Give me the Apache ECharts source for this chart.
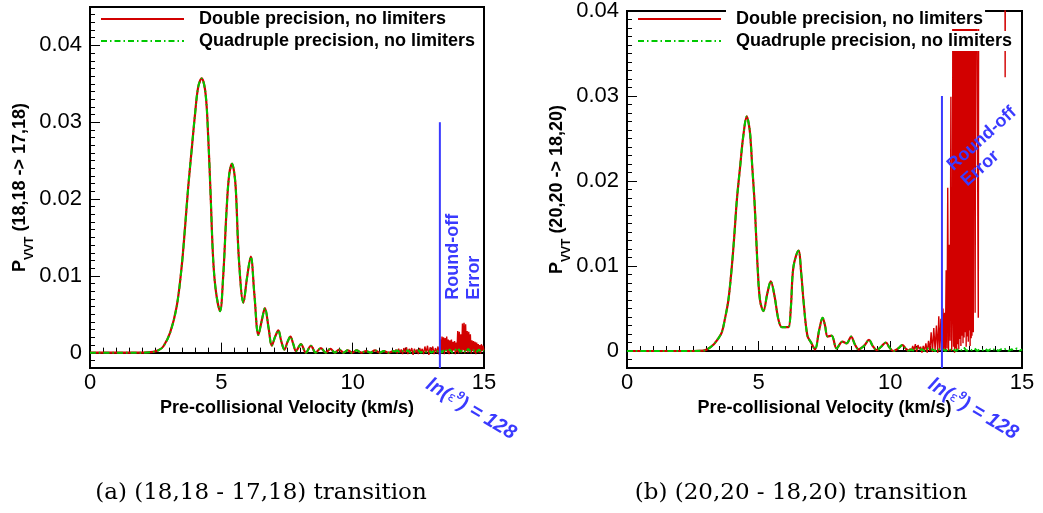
<!DOCTYPE html>
<html>
<head>
<meta charset="utf-8">
<script src="https://cdn.jsdelivr.net/npm/echarts@6/dist/echarts.min.js"></script>
<style>
  html, body { margin: 0; padding: 0; background: #fff; }
  #main { width: 1043px; height: 513px; }
</style>
</head>
<body>
<div id="main"></div>
<script>
// ---------- data: [velocity (km/s), P_VVT] ----------

// (18,18 -> 17,18): smooth part shared by both precisions
const leftCommon = [
  [0, 0], [2.0, 0], [2.41, 0.0001], [2.6, 0.0003], [2.79, 0.0008], [3.05, 0.0026],
  [3.3, 0.006], [3.49, 0.0112], [3.62, 0.0164], [3.74, 0.0216], [3.87, 0.0264],
  [4.0, 0.0311], [4.12, 0.0346], [4.25, 0.0357], [4.4, 0.0337], [4.5, 0.0281],
  [4.59, 0.0207], [4.69, 0.0121], [4.8, 0.0078], [4.95, 0.0054], [5.07, 0.0099],
  [5.2, 0.0186], [5.3, 0.0232], [5.41, 0.0246], [5.5, 0.0232], [5.56, 0.0207],
  [5.67, 0.0121], [5.84, 0.0065], [5.98, 0.0098], [6.12, 0.0125], [6.26, 0.0075],
  [6.41, 0.0023], [6.54, 0.0042], [6.66, 0.0058], [6.8, 0.0032], [6.92, 0.0009],
  [7.05, 0.0021], [7.17, 0.0029], [7.28, 0.0015], [7.4, 0.0004], [7.52, 0.0014],
  [7.63, 0.0021], [7.74, 0.0011], [7.84, 0.0002], [8.03, 0.0011], [8.22, 0.0],
  [8.41, 0.0009], [8.59, 0.0], [8.79, 0.0006], [8.97, 0.0], [9.15, 0.0005],
  [9.32, 0.0], [9.49, 0.0004], [9.65, 0.0], [9.81, 0.0003], [9.98, 0.0],
  [10.15, 0.0003], [10.33, 0.0], [10.51, 0.0002], [10.68, 0.0], [10.85, 0.0003],
  [11.02, 0.0], [11.19, 0.0002], [11.37, 0.0], [11.55, 0.0002], [11.6, 0.0001]
];

// (18,18 -> 17,18): double precision, noisy tail
const leftDoubleTail = [
  [11.6, 0.0001], [11.65, 0.0004], [11.7, -0.0001], [11.75, 0.0005], [11.8, 0.0],
  [11.85, 0.0004], [11.9, -0.0002], [11.95, 0.0006], [12.0, 0.0], [12.05, 0.0007],
  [12.1, -0.0002], [12.15, 0.0005], [12.2, 0.0001], [12.25, 0.0006], [12.3, -0.0003],
  [12.35, 0.0005], [12.4, 0.0], [12.45, 0.0004], [12.5, -0.0002], [12.55, 0.0006],
  [12.6, 0.0001], [12.65, 0.0005], [12.7, -0.0002], [12.75, 0.0008], [12.8, 0.0],
  [12.85, 0.0009], [12.9, -0.0003], [12.95, 0.0007], [13.0, 0.0001], [13.05, 0.0008],
  [13.1, -0.0002], [13.15, 0.0006], [13.2, 0.0], [13.25, 0.0008], [13.3, -0.0003],
  [13.34, 0.0017], [13.37, -0.0001], [13.4, 0.0021], [13.43, 0.0002], [13.46, 0.002],
  [13.49, -0.0002], [13.52, 0.0019], [13.55, 0.0003], [13.58, 0.0021], [13.61, 0.0],
  [13.64, 0.0017], [13.67, -0.0002], [13.7, 0.0016], [13.73, 0.0002], [13.76, 0.0017],
  [13.79, -0.0001], [13.82, 0.0014], [13.85, 0.0003], [13.88, 0.0015], [13.91, -0.0002],
  [13.94, 0.0013], [13.97, 0.0001], [14.0, 0.0028], [14.03, -0.0001], [14.06, 0.0027],
  [14.09, 0.0002], [14.12, 0.0024], [14.15, 0.0], [14.18, 0.0038], [14.21, 0.0003],
  [14.24, 0.0039], [14.27, -0.0001], [14.3, 0.0037], [14.33, 0.0002], [14.36, 0.0028],
  [14.39, 0.0], [14.42, 0.0027], [14.45, 0.0003], [14.48, 0.0024], [14.51, -0.0001],
  [14.54, 0.0016], [14.57, 0.0002], [14.6, 0.0015], [14.63, 0.0], [14.66, 0.0014],
  [14.69, -0.0002], [14.72, 0.0013], [14.75, 0.0001], [14.78, 0.0011], [14.81, 0.0],
  [14.84, 0.001], [14.87, -0.0001], [14.9, 0.0011], [14.93, 0.0002], [14.96, 0.0009],
  [15.0, 0.0003]
];

// (18,18 -> 17,18): quadruple precision tail
const leftQuadTail = [
  [11.6, 0.0001], [11.7, 0.0003], [11.8, 0.0], [11.9, 0.0002], [12.0, 0.0001],
  [12.1, 0.0003], [12.2, 0.0], [12.3, 0.0002], [12.4, 0.0001], [12.5, 0.0003],
  [12.6, 0.0], [12.7, 0.0002], [12.8, 0.0001], [12.9, 0.0003], [13.0, 0.0],
  [13.1, 0.0002], [13.2, 0.0001], [13.3, 0.0004], [13.4, 0.0], [13.5, 0.0005],
  [13.6, 0.0001], [13.7, 0.0004], [13.8, 0.0], [13.9, 0.0003], [14.0, 0.0006],
  [14.1, 0.0001], [14.2, 0.0004], [14.3, 0.0], [14.4, 0.0005], [14.5, 0.0001],
  [14.6, 0.0003], [14.7, 0.0], [14.8, 0.0004], [14.9, 0.0001], [15.0, 0.0003]
];

// (20,20 -> 18,20): smooth part shared by both precisions
const rightCommon = [
  [0, 0], [2.5, 0], [2.9, 0.00005], [3.05, 0.0002], [3.3, 0.0008], [3.45, 0.0014],
  [3.6, 0.0022], [3.72, 0.0038], [3.85, 0.006], [3.98, 0.0099], [4.08, 0.0138],
  [4.17, 0.0177], [4.29, 0.0215], [4.42, 0.0254], [4.55, 0.0276], [4.62, 0.0268],
  [4.68, 0.0254], [4.76, 0.0215], [4.84, 0.0177], [4.9, 0.0138], [4.96, 0.0099],
  [5.05, 0.006], [5.18, 0.0047], [5.33, 0.0068], [5.46, 0.0082], [5.6, 0.0065],
  [5.75, 0.0037], [5.88, 0.0028], [6.0, 0.0028], [6.13, 0.0028], [6.22, 0.005],
  [6.32, 0.0099], [6.51, 0.0118], [6.62, 0.009], [6.7, 0.006], [6.85, 0.0018],
  [6.99, 0.001], [7.14, 0.0002], [7.3, 0.0025], [7.43, 0.0039], [7.52, 0.003],
  [7.62, 0.0017], [7.77, 0.0018], [7.96, 0.0003], [8.18, 0.0011], [8.34, 0.0009],
  [8.51, 0.0017], [8.65, 0.0008], [8.79, 0.0002], [9.0, 0.0006], [9.19, 0.0013],
  [9.33, 0.0006], [9.48, 0.0001], [9.65, 0.0005], [9.83, 0.001], [9.97, 0.0004],
  [10.11, 0.0], [10.3, 0.0003], [10.46, 0.0007], [10.58, 0.0003], [10.7, 0.0]
];

// (20,20 -> 18,20): double precision, round-off blow-up
const rightDoubleTail = [
  [10.7, 0.0], [10.75, 0.0003], [10.8, 0.0], [10.85, 0.0006], [10.9, 0.0001],
  [10.95, 0.0008], [11.0, -0.0001], [11.05, 0.0007], [11.1, 0.0002], [11.15, 0.0005],
  [11.2, -0.0002], [11.25, 0.0006], [11.3, 0.0], [11.35, 0.0009], [11.4, -0.0002],
  [11.45, 0.0012], [11.5, 0.0], [11.55, 0.0022], [11.6, -0.0001], [11.65, 0.0027],
  [11.7, 0.0001], [11.75, 0.003], [11.8, -0.0002], [11.84, 0.0041], [11.88, 0.0],
  [11.92, 0.0038], [11.96, -0.0001], [12.0, 0.005], [12.03, 0.0002], [12.06, 0.0045],
  [12.09, -0.0001], [12.12, 0.0095], [12.15, 0.0003], [12.18, 0.0192], [12.21, 0.0],
  [12.24, 0.0125], [12.27, 0.0012], [12.3, 0.0299], [12.33, 0.0], [12.36, 0.0065],
  [12.38, 0.06], [12.4, 0.0005], [12.42, 0.06], [12.44, -0.0002], [12.46, 0.06],
  [12.48, 0.0003], [12.5, 0.06], [12.52, 0.0], [12.54, 0.06], [12.56, 0.0008],
  [12.58, 0.06], [12.6, 0.0002], [12.62, 0.06], [12.64, 0.0014], [12.66, 0.06],
  [12.68, 0.0006], [12.7, 0.06], [12.72, 0.0018], [12.74, 0.06], [12.76, 0.0009],
  [12.78, 0.06], [12.8, 0.0016], [12.82, 0.06], [12.84, 0.0022], [12.86, 0.06],
  [12.88, 0.0005], [12.9, 0.06], [12.92, 0.0017], [12.94, 0.06], [12.96, 0.0011],
  [12.98, 0.06], [13.0, 0.0024], [13.02, 0.06], [13.03, 0.0006], [13.05, 0.06],
  [13.07, 0.0015], [13.09, 0.06], [13.1, 0.0018], [13.12, 0.06], [13.15, 0.0022],
  [13.18, 0.06], [13.22, 0.0045], [13.26, 0.06], [13.34, 0.0039], [13.36, 0.06],
  [13.6, 0.08], [14.0, 0.09], [14.34, 0.07], [14.36, 0.0322], [14.38, 0.07], [14.6, 0.08]
];

// (20,20 -> 18,20): quadruple precision tail
const rightQuadTail = [
  [10.7, 0.0], [10.8, 0.0002], [10.9, 0.0], [11.0, 0.0003], [11.1, 0.0001],
  [11.2, 0.0002], [11.3, 0.0], [11.4, 0.0003], [11.5, 0.0001], [11.6, 0.0002],
  [11.7, 0.0], [11.8, 0.0003], [11.9, 0.0001], [12.0, 0.0002], [12.1, 0.0],
  [12.2, 0.0003], [12.3, 0.0001], [12.4, 0.0002], [12.5, 0.0], [12.6, 0.0003],
  [12.7, 0.0001], [12.8, 0.0004], [12.9, 0.0], [13.0, 0.0002], [13.1, 0.0001],
  [13.2, 0.0003], [13.3, 0.0], [13.4, 0.0002], [13.5, 0.0001], [13.6, 0.0003],
  [13.7, 0.0], [13.8, 0.0002], [13.9, 0.0001], [14.0, 0.0003], [14.1, 0.0],
  [14.2, 0.0002], [14.3, 0.0001], [14.4, 0.0003], [14.5, 0.0], [14.6, 0.0002],
  [14.7, 0.0001], [14.8, 0.0003], [14.9, 0.0], [15.0, 0.0002]
];

// round-off limit marker: velocity where ln(e^9) = 128, drawn from yMin up to this height
const limitV = [13.32, 11.96];
const limitTop = 0.03;

const xTicks = [0, 5, 10, 15];
const yTicks = [0, 0.01, 0.02, 0.03, 0.04];
const yMin = -0.002;
const yMax = [0.045, 0.04];

const seriesNames = ['Double precision, no limiters', 'Quadruple precision, no limiters'];
const yNames = ['(18,18 -> 17,18)', '(20,20 -> 18,20)'];
const captions = ['(a) (18,18 - 17,18) transition', '(b) (20,20 - 18,20) transition'];

// ---------- styling ----------
const SANS = '"Liberation Sans", Arial, Helvetica, sans-serif';
const RED = '#d20000';
const GREEN = '#00c800';
const BLUE = '#3a3aff';
const DASHDOT = [6, 3, 1.5, 3];

const grids = [
  { left: 90, top: 7, width: 394, height: 361 },
  { left: 627, top: 8, width: 395, height: 360 }
];

const chart = echarts.init(document.getElementById('main'), null, { renderer: 'canvas' });

const xAxes = [], yAxes = [], series = [], legends = [];
grids.forEach((g, i) => {
  xAxes.push({
    type: 'value', gridIndex: i, min: 0, max: 15, interval: 5,
    name: 'Pre-collisional Velocity (km/s)', nameLocation: 'middle', nameGap: 31,
    nameTextStyle: { fontFamily: SANS, fontSize: 18, fontWeight: 'bold', color: '#000' },
    axisLine: { show: true, lineStyle: { color: '#000', width: 2 } },
    axisTick: { show: true, inside: true, length: 10, lineStyle: { color: '#000', width: 1 } },
    minorTick: { show: true, splitNumber: 10, length: 5, lineStyle: { color: '#000', width: 1 } },
    axisLabel: { show: true, margin: 4, fontFamily: SANS, fontSize: 22, color: '#000',
      customValues: xTicks, formatter: v => String(v) },
    splitLine: { show: false }, minorSplitLine: { show: false }
  });
  // main y axis: labels and major ticks
  yAxes.push({
    type: 'value', gridIndex: i, min: yMin, max: yMax[i], interval: 0.001,
    name: '{p|P}{s|VVT}{t| ' + yNames[i] + '}',
    nameLocation: 'middle', nameGap: 57,
    nameTextStyle: {
      color: '#000',
      rich: {
        p: { fontFamily: SANS, fontSize: 18, fontWeight: 'bold', lineHeight: 19, verticalAlign: 'top', color: '#000' },
        s: { fontFamily: SANS, fontSize: 12, fontWeight: 'bold', lineHeight: 12, padding: [12, 0, 0, 0], verticalAlign: 'top', color: '#000' },
        t: { fontFamily: SANS, fontSize: 18, fontWeight: 'bold', lineHeight: 19, verticalAlign: 'top', color: '#000' }
      }
    },
    axisLine: { show: true, lineStyle: { color: '#000', width: 2 } },
    axisTick: { show: true, inside: true, length: 10, customValues: yTicks, lineStyle: { color: '#000', width: 1 } },
    axisLabel: { show: true, margin: 8, fontFamily: SANS, fontSize: 22, color: '#000',
      customValues: yTicks, formatter: v => (Math.abs(v) < 1e-12 ? '0' : v.toFixed(2)) },
    splitLine: { show: false }
  });
  // companion y axis carrying the 0.001 minor ticks
  yAxes.push({
    type: 'value', gridIndex: i, min: yMin, max: yMax[i], interval: 0.001, position: 'left',
    axisLine: { show: false },
    axisTick: { show: true, inside: true, length: 5, lineStyle: { color: '#000', width: 1 } },
    axisLabel: { show: false }, splitLine: { show: false }
  });
});

function addPanel(i, common, dTail, qTail) {
  const yi = i * 2;
  const base = { type: 'line', xAxisIndex: i, yAxisIndex: yi, symbol: 'none', showSymbol: false,
    silent: true, clip: true, animation: false };
  series.push(Object.assign({}, base, { name: seriesNames[0], data: common, smooth: 0.35,
    lineStyle: { color: RED, width: 2.2 }, itemStyle: { color: RED }, z: 2 }));
  series.push(Object.assign({}, base, { name: seriesNames[0], data: dTail, smooth: false,
    lineStyle: { color: RED, width: 1.4 }, itemStyle: { color: RED }, z: 2 }));
  series.push(Object.assign({}, base, { name: seriesNames[1], data: common, smooth: 0.35,
    lineStyle: { color: GREEN, width: 2, type: DASHDOT }, itemStyle: { color: GREEN }, z: 3 }));
  series.push(Object.assign({}, base, { name: seriesNames[1], data: qTail, smooth: false,
    lineStyle: { color: GREEN, width: 2, type: DASHDOT }, itemStyle: { color: GREEN }, z: 3 }));
  series.push(Object.assign({}, base, { name: 'limit', data: [[limitV[i], limitTop], [limitV[i], yMin]],
    lineStyle: { color: BLUE, width: 2 }, itemStyle: { color: BLUE }, z: 4 }));

  legends.push({
    data: seriesNames.map(n => ({ name: n })),
    orient: 'vertical', left: grids[i].left + 10, top: 9, padding: 0,
    itemWidth: 83, itemHeight: 14, itemGap: 2, selectedMode: false,
    itemStyle: { opacity: 0 },
    textStyle: { fontFamily: SANS, fontSize: 18, fontWeight: 'bold', color: '#000',
      backgroundColor: '#fff', padding: [0, 2, 0, 10], lineHeight: 20 },
    z: 10
  });
}
addPanel(0, leftCommon, leftDoubleTail, leftQuadTail);
addPanel(1, rightCommon, rightDoubleTail, rightQuadTail);

chart.setOption({
  animation: false,
  backgroundColor: '#fff',
  grid: grids.map(g => Object.assign({ show: true, borderColor: '#000', borderWidth: 2,
    backgroundColor: 'transparent', containLabel: false }, g)),
  xAxis: xAxes,
  yAxis: yAxes,
  legend: legends,
  series: series
});

// annotations placed relative to the round-off marker
function px(i, v, p) {
  return chart.convertToPixel({ xAxisIndex: i, yAxisIndex: i * 2 }, [v, p]);
}
const labelFont = { fontFamily: SANS, fontSize: 18, fontWeight: 'bold' };
const graphics = [];

// panel (a): vertical "Round-off Error"
{
  const a = px(0, limitV[0], 0.0069);
  graphics.push({
    type: 'text', x: a[0] + 3, y: a[1], rotation: Math.PI / 2, z: 20,
    style: Object.assign({ text: 'Round-off\nError', fill: BLUE, align: 'left', verticalAlign: 'top',
      lineHeight: 21 }, labelFont)
  });
}
// panel (b): slanted "Round-off Error"
{
  const a = px(1, limitV[1], 0.0225);
  graphics.push({
    type: 'text', x: a[0] + 1, y: a[1], rotation: 0.733, z: 20,
    style: Object.assign({ text: 'Round-off\nError', fill: BLUE, align: 'left', verticalAlign: 'top',
      lineHeight: 21 }, labelFont)
  });
}
// ln(e^9) = 128 under each marker
for (let i = 0; i < 2; i++) {
  const b = px(i, limitV[i], yMin);
  graphics.push({
    type: 'text', x: b[0] - 5, y: b[1] + 3, rotation: -0.54, z: 20,
    style: {
      text: '{a|ln(}{e|ε}{s|9}{a|) = 128}',
      align: 'left', verticalAlign: 'top',
      rich: {
        a: { fontFamily: SANS, fontSize: 20, fontWeight: 'bold', fontStyle: 'italic', fill: BLUE, lineHeight: 24, verticalAlign: 'bottom' },
        e: { fontFamily: '"DejaVu Sans", sans-serif', fontSize: 13, fill: BLUE, lineHeight: 19, verticalAlign: 'bottom', padding: [0, 0, 3, 0] },
        s: { fontFamily: SANS, fontSize: 12, fontWeight: 'bold', fontStyle: 'italic', fill: BLUE, lineHeight: 12, verticalAlign: 'bottom', padding: [0, 0, 10, 0] }
      }
    }
  });
}
// sub-figure captions
const captionX = [261, 801];
captions.forEach((c, i) => {
  graphics.push({
    type: 'text', x: captionX[i], y: 493, z: 20,
    style: { text: c, fill: '#000', align: 'center', verticalAlign: 'middle',
      fontFamily: '"DejaVu Serif", serif', fontSize: 23 }
  });
});

chart.setOption({ graphic: graphics });
</script>
</body>
</html>
